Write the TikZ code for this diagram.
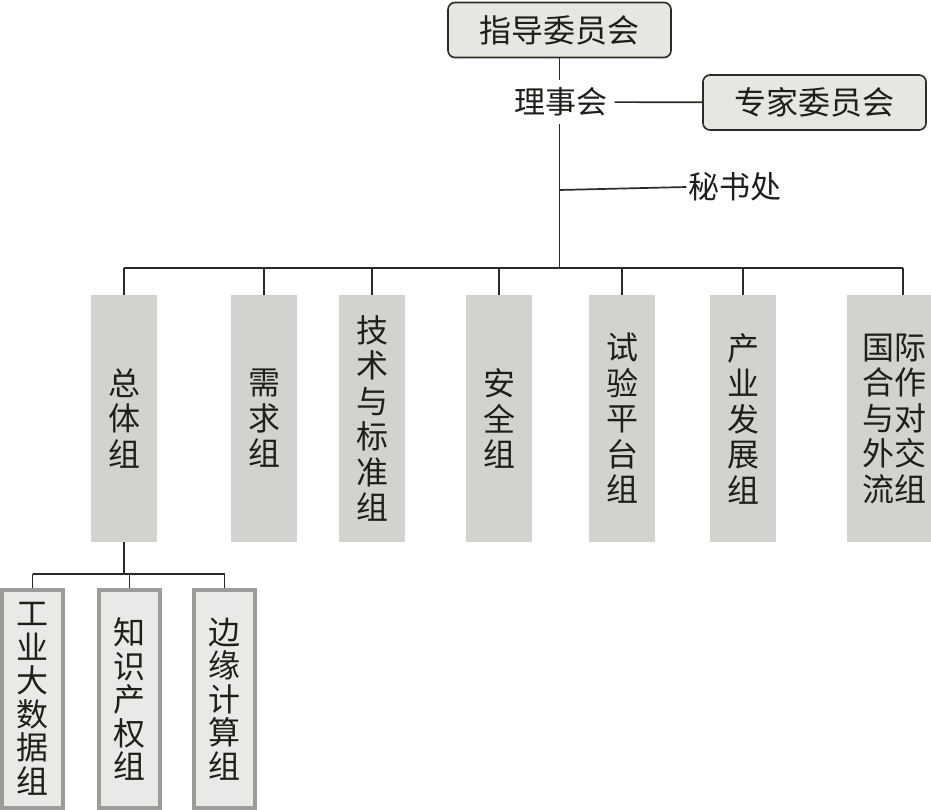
\documentclass[tikz,border=0pt]{standalone}
\usepackage{fontspec}
\setmainfont{Noto Sans CJK SC}
\usetikzlibrary{positioning,calc}
\definecolor{orgline}{HTML}{2B2B25}
\definecolor{orgtext}{HTML}{1E1E1A}
\definecolor{topfill}{HTML}{E6E6E3}
\definecolor{colfill}{HTML}{D2D2CE}
\definecolor{subfill}{HTML}{E9E9E7}
\definecolor{subedge}{HTML}{9C9C98}

\begin{document}
\begin{tikzpicture}[x=1pt, y=-1pt,
  topbox/.style={rounded corners=7pt, draw=orgline, line width=1.6pt, fill=topfill,
                 minimum width=223pt, minimum height=55pt, text=orgtext,
                 font=\fontsize{32}{36}\selectfont},
  label/.style={inner sep=7pt, text=orgtext, font=\fontsize{31}{36}\selectfont},
  colbox/.style={fill=colfill, minimum width=66pt, minimum height=247pt, inner sep=0pt,
                 align=center, text=orgtext, font=\fontsize{32}{35.5}\selectfont},
  subbox/.style={draw=subedge, line width=4pt, fill=subfill, minimum width=61pt,
                 minimum height=218pt, inner sep=0pt, align=center, text=orgtext,
                 font=\fontsize{32}{33.5}\selectfont},
  line/.style={draw=orgline, line width=1.7pt}
]
\useasboundingbox (0,0) rectangle (931,810);
\fill[white] (0,0) rectangle (931,810);

% top of the chart
\node[topbox] (guide) at (559.5,30) {指导委员会};
\node[label] (board) at (561,102) {理事会};
\node[topbox] (expert) at (814.5,102.5) {专家委员会};
\node[label, inner sep=2pt] (sec) at (735,187) {秘书处};
\coordinate (secj) at (559.5,190);
\coordinate (busc) at (559.5,268);

\draw[line] (guide.south) -- (guide.south |- board.north);
\draw[line] (board) -- (expert);
\draw[line] (busc |- board.south) -- (busc);
\draw[line] (secj) -- (sec.west);

% working groups
\foreach \name/\x/\txt in {c1/124/{总\\体\\组}, c2/264/{需\\求\\组},
    c3/372/{技\\术\\与\\标\\准\\组}, c4/499/{安\\全\\组}, c5/622/{试\\验\\平\\台\\组},
    c6/743/{产\\业\\发\\展\\组}}
  \node[colbox] (\name) at (\x,418.5) {\txt};
\node[colbox, minimum width=94pt] (c7) at (894,418.5) {国际\\合作\\与对\\外交\\流组};
\coordinate (c7top) at ([xshift=9pt]c7.north);

\draw[line] (c1.north |- busc) -- (c7top |- busc);
\foreach \name in {c1,c2,c3,c4,c5,c6}
  \draw[line] (\name.north) -- (\name.north |- busc);
\draw[line] (c7top) -- (c7top |- busc);

% sub groups of 总体组
\node[subbox] (s1) at (32.5,699) {工\\业\\大\\数\\据\\组};
\node[subbox] (s2) at (129.5,699) {知\\识\\产\\权\\组};
\node[subbox] (s3) at (224.5,699) {边\\缘\\计\\算\\组};
\coordinate (busb) at (124,574);

\draw[line] (c1.south) -- (busb);
\draw[line] (s1.north |- busb) -- (s3.north |- busb);
\foreach \name in {s1,s2,s3}
  \draw[line] (\name.north |- busb) -- (\name.north);
\end{tikzpicture}
\end{document}
